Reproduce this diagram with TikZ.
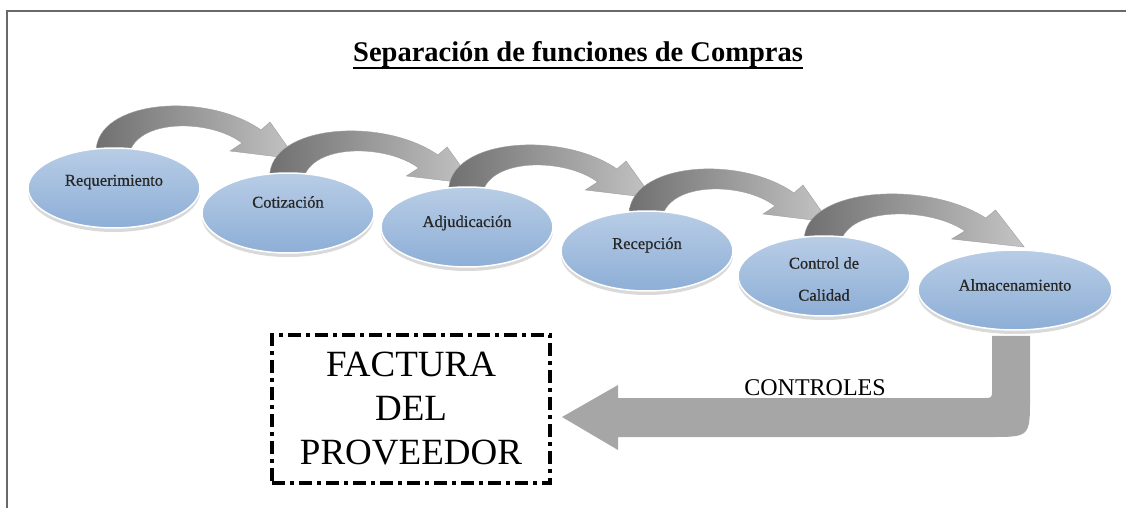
\documentclass[tikz,border=0pt]{standalone}
\usepackage{fontspec}
\setmainfont{Liberation Serif}
\usetikzlibrary{shapes.geometric,shadows,backgrounds}

\definecolor{ovaltop}{RGB}{184,205,230}
\definecolor{ovalbot}{RGB}{141,174,214}
\definecolor{arrowdark}{RGB}{112,112,112}
\definecolor{arrowlight}{RGB}{196,196,196}
\definecolor{bigarrow}{RGB}{166,166,166}
\definecolor{framegray}{RGB}{105,105,105}

\tikzset{
	oval/.style={ellipse, minimum width=172pt, minimum height=80pt, inner sep=0pt,
		top color=ovaltop, bottom color=ovalbot, draw=white, line width=1.5pt,
		drop shadow={opacity=0.3, shadow xshift=0pt, shadow yshift=-4pt}},
	ovaltext/.style={font=\fontsize{16.5}{32}\selectfont\addfontfeature{FakeBold=0.6}, align=center, inner sep=0pt, text=black!85},
	curvarrow/.style={left color=arrowdark, right color=arrowlight, draw=gray!75, line width=0.4pt},
	facturabox/.style={draw, line width=4pt, dash pattern=on 13pt off 5pt on 4pt off 5pt,
		minimum width=278pt, minimum height=148pt, inner sep=0pt, align=center,
		font=\fontsize{37}{44}\selectfont},
}

\begin{document}
\begin{tikzpicture}[x=1pt, y=-1pt]
	\useasboundingbox (0,0) rectangle (1126,508);
	%frame
	\draw[framegray, line width=1.5pt] (7,508) -- (7,11) -- (1126,11);
	
	%title
	\node[font=\fontsize{28.5}{34}\selectfont\bfseries, anchor=base, inner sep=0pt] (title) at (578,62) {Separación de funciones de Compras};
	\draw[line width=2.5pt] ([yshift=-6pt]title.base west) -- ([yshift=-6pt]title.base east);
	
	%ovals
	\node[oval] (req) at (114,188) {};
	\node[oval] (cot) at (288,213) {};
	\node[oval] (adj) at (467,227) {};
	\node[oval] (rec) at (647,251) {};
	\node[oval] (cdc) at (824,276) {};
	\node[oval, minimum width=194pt] (alm) at (1015,290) {};
	\foreach \name/\txt/\up in {req/Requerimiento/6, cot/Cotización/11, adj/Adjudicación/4, rec/Recepción/6, cdc/{Control de\\Calidad}/-3, alm/Almacenamiento/5}
	\node[ovaltext] (\name-t) at ([yshift=\up pt]\name.center) {\txt};
	
	%curved arrows
	\begin{pgfonlayer}{background}
	\foreach \from/\sx in {req/1, cot/1.02, adj/1.02, rec/1, cdc/1.1}
	{
		\begin{scope}[shift={(\from.center)}, xscale=\sx]
			\draw[curvarrow] (-18,-36) .. controls (-18,-88) and (92,-97) .. (147,-58)
				-- (156,-66) -- (182,-29) -- (116,-37) -- (128,-45)
				.. controls (98,-68) and (28,-70) .. (16,-37) -- cycle;
		\end{scope}
	}
	\end{pgfonlayer}
	
	%invoice
	\node[facturabox] (factura) at (411,409) {FACTURA\\DEL\\PROVEEDOR};
	
	%controls arrow
	\coordinate (tip) at ([xshift=10pt, yshift=-8pt]factura.east);
	\fill[bigarrow] ([xshift=-23pt, yshift=-5pt]alm.south) -- (992,390) .. controls (992,398) .. (984,398)
		-- (618,398) -- (618,385) -- (tip) -- (618,450) -- (618,437)
		-- (990,437) .. controls (1030,437) .. (1030,397) -- ([xshift=15pt, yshift=-5pt]alm.south) -- cycle;
	\node[font=\fontsize{24}{28}\selectfont, anchor=base] (controles) at (815,395) {CONTROLES};
\end{tikzpicture}
\end{document}
